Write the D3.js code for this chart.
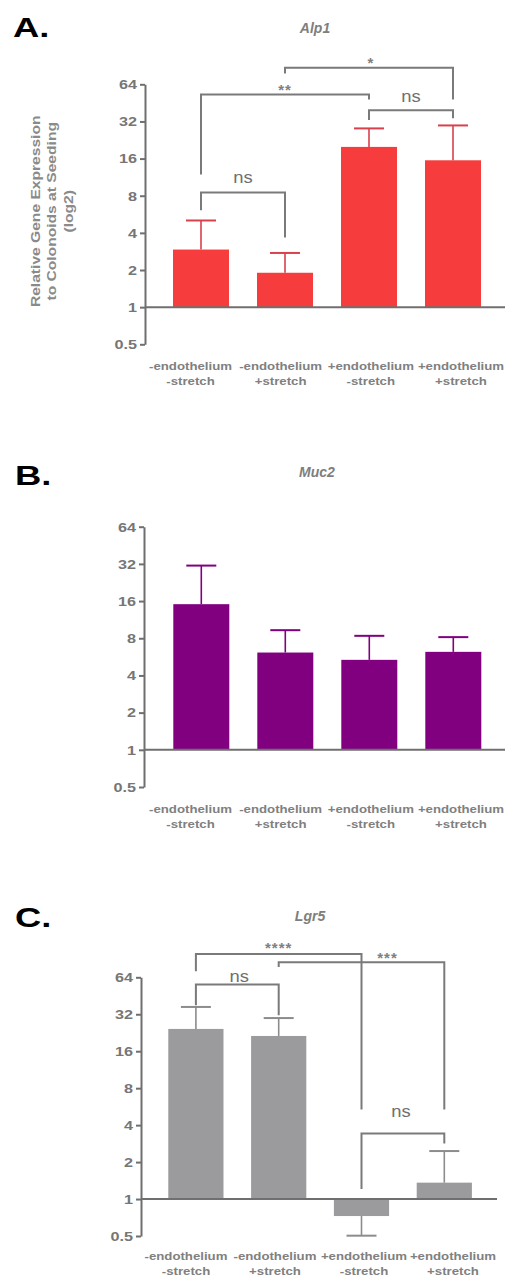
<!DOCTYPE html>
<html>
<head>
<meta charset="utf-8">
<script src="https://cdn.jsdelivr.net/npm/d3@7"></script>
<style>
  body { margin: 0; background: #fff; }
  svg { display: block; font-family: "Liberation Sans", Arial, sans-serif; }
</style>
</head>
<body>
<svg id="fig" width="509" height="1277"></svg>
<script>
// groups (two-line x labels)
const groups = [
  ['-endothelium', '-stretch'],
  ['-endothelium', '+stretch'],
  ['+endothelium', '-stretch'],
  ['+endothelium', '+stretch']
];
const yTicks = [0.5, 1, 2, 4, 8, 16, 32, 64];

// relative expression (mean) and tip of error bar
const alp1Mean = [2.93, 1.90, 19.9, 15.5];
const alp1ErrEnd = [5.04, 2.75, 28.1, 29.7];
const muc2Mean = [15.1, 6.13, 5.35, 6.21];
const muc2ErrEnd = [31.0, 9.3, 8.37, 8.17];
const lgr5Mean = [24.3, 21.3, 0.727, 1.36];
const lgr5ErrEnd = [36.7, 29.8, 0.503, 2.46];

// significance brackets: [from, to, text, level, left leg end, right leg end]
const alp1Brackets = [
  [0, 1, 'ns', 8.5, 6.1, 3.67],
  [0, 2, '**', 53.0, 11.9, 48.2],
  [2, 3, 'ns', 39.5, 32.8, 34.0],
  [1, 3, '*', 87.0, 78.4, 48.2]
];
const lgr5Brackets = [
  [0, 2, '****', 99.0, 71.6, 5.37],
  [1, 3, '***', 84.7, 77.6, 5.37],
  [0, 1, 'ns', 55.8, 37.9, 31.4],
  [2, 3, 'ns', 3.42, 1.21, 2.84]
];

const svg = d3.select('#fig');

const panels = [
  {
    tag: 'A.', title: 'Alp1', mean: alp1Mean, err: alp1ErrEnd, brackets: alp1Brackets,
    fill: '#f63c3c', errColor: '#d8404c',
    left: 145, top: 84.3, bottom: 344.3, band: [159, 495], axisEnd: 505,
    labels: [190.5, 461], labelDy: 26, titleX: 315, titleY: 33, tagX: 13, tagY: 36.7,
    textGap: [9, -0.5, 8.3, 0], textDx: [0, 0, 0, 2], yLabel: true
  },
  {
    tag: 'B.', title: 'Muc2', mean: muc2Mean, err: muc2ErrEnd, brackets: [],
    fill: '#800080', errColor: '#800080',
    left: 144, top: 526.7, bottom: 787, band: [159.3, 495.3], axisEnd: 505,
    labels: [190.5, 461], labelDy: 26, titleX: 317, titleY: 476.7, tagX: 15, tagY: 485,
    textGap: [], textDx: [], yLabel: false
  },
  {
    tag: 'C.', title: 'Lgr5', mean: lgr5Mean, err: lgr5ErrEnd, brackets: lgr5Brackets,
    fill: '#9b9b9e', errColor: '#8c8c8c',
    left: 141, top: 977.3, bottom: 1236, band: [154.5, 485.7], axisEnd: 497,
    labels: [186, 453], labelDy: 24, titleX: 310, titleY: 921, tagX: 15, tagY: 927,
    textGap: [1.5, -0.8, 2.6, 16.6], textDx: [0, 26, 2, -2], yLabel: false
  }
];

// stretch a text element horizontally around its own anchor
function stretch(sel, sx) {
  sel.attr('transform', function () {
    const x = +this.getAttribute('x') || 0;
    const y = +this.getAttribute('y') || 0;
    return `translate(${x},${y}) scale(${sx},1) translate(${-x},${-y})`;
  });
}

const gray = '#6f6f6f';
const brGray = '#7a7a7a';

panels.forEach(p => {
  const g = svg.append('g');

  const y = d3.scaleLog().base(2).domain([0.5, 64]).range([p.bottom, p.top]);
  const x = d3.scaleBand().domain(d3.range(groups.length)).range(p.band)
    .paddingInner(1 / 3).paddingOuter(1 / 6);
  const xl = d3.scalePoint().domain(d3.range(groups.length)).range(p.labels);
  const cx = i => x(i) + x.bandwidth() / 2;

  // panel tag
  g.append('text')
    .attr('x', p.tagX).attr('y', p.tagY)
    .attr('font-size', 28).attr('font-weight', 'bold').attr('fill', '#000')
    .text(p.tag)
    .call(stretch, 1.3);

  // title
  g.append('text')
    .attr('x', p.titleX).attr('y', p.titleY)
    .attr('text-anchor', 'middle')
    .attr('font-size', 14).attr('font-weight', 'bold').attr('font-style', 'italic')
    .attr('fill', '#7e7e7e')
    .text(p.title);

  // bars
  g.selectAll('rect.bar')
    .data(p.mean)
    .join('rect')
    .attr('class', 'bar')
    .attr('x', (d, i) => x(i))
    .attr('width', x.bandwidth())
    .attr('y', d => Math.min(y(d), y(1)))
    .attr('height', d => Math.abs(y(d) - y(1)))
    .attr('fill', p.fill);

  // error bars
  const eb = g.selectAll('g.err')
    .data(p.err)
    .join('g')
    .attr('class', 'err')
    .attr('stroke', p.errColor);
  eb.append('line')
    .attr('x1', (d, i) => cx(i)).attr('x2', (d, i) => cx(i))
    .attr('y1', (d, i) => y(p.mean[i])).attr('y2', d => y(d))
    .attr('stroke-width', 1.6);
  eb.append('line')
    .attr('x1', (d, i) => cx(i) - 15).attr('x2', (d, i) => cx(i) + 15)
    .attr('y1', d => y(d)).attr('y2', d => y(d))
    .attr('stroke-width', 2);

  // y axis
  const ya = g.append('g')
    .attr('transform', `translate(${p.left},0)`)
    .call(d3.axisLeft(y).tickValues(yTicks).tickFormat(d => d).tickSize(5).tickSizeOuter(0).tickPadding(3));
  ya.select('.domain').attr('stroke', gray).attr('stroke-width', 2);
  ya.selectAll('.tick line').attr('stroke', gray).attr('stroke-width', 2);
  ya.selectAll('.tick text')
    .attr('font-size', 13.5).attr('font-weight', 'bold').attr('fill', '#767676')
    .attr('font-family', '"Liberation Sans", Arial, sans-serif')
    .call(stretch, 1.2);

  // baseline at 1
  g.append('line')
    .attr('x1', p.left).attr('x2', p.axisEnd)
    .attr('y1', y(1)).attr('y2', y(1))
    .attr('stroke', gray).attr('stroke-width', 2);

  // x labels
  const xt = g.selectAll('text.xl')
    .data(groups)
    .join('text')
    .attr('class', 'xl')
    .attr('x', (d, i) => xl(i))
    .attr('y', y(0.5) + p.labelDy)
    .attr('text-anchor', 'middle')
    .attr('font-size', 11.5).attr('font-weight', 'bold').attr('fill', '#808080');
  xt.selectAll('tspan')
    .data((d, i) => d.map(s => [s, xl(i)]))
    .join('tspan')
    .attr('x', d => d[1])
    .attr('dy', (d, j) => j === 0 ? 0 : 14.8)
    .text(d => d[0]);
  xt.call(stretch, 1.15);

  // significance brackets
  p.brackets.forEach((b, k) => {
    const [a, c, label, level, endA, endC] = b;
    const xa = cx(a), xc = cx(c), yl = y(level);
    g.append('path')
      .attr('d', `M${xa},${y(endA)}V${yl}H${xc}V${y(endC)}`)
      .attr('fill', 'none').attr('stroke', brGray).attr('stroke-width', 2);
    const isStar = label.startsWith('*');
    g.append('text')
      .attr('x', (xa + xc) / 2 + p.textDx[k])
      .attr('y', yl - p.textGap[k])
      .attr('text-anchor', 'middle')
      .attr('font-size', isStar ? 15 : 16)
      .attr('font-weight', isStar ? 'bold' : 'normal')
      .attr('letter-spacing', isStar ? 1 : 0)
      .attr('fill', isStar ? '#808080' : '#6f6f6f')
      .text(label)
      .call(stretch, isStar ? 1 : 1.15);
  });

  // y axis title (panel A only)
  if (p.yLabel) {
    const t = g.append('text')
      .attr('transform', `translate(40,${(p.top + p.bottom) / 2 - 3}) rotate(-90) scale(1.25,1)`)
      .attr('text-anchor', 'middle')
      .attr('font-size', 12.5).attr('font-weight', 'bold').attr('fill', '#8a8a8a');
    ['Relative Gene Expression', 'to Colonoids at Seeding', '(log2)'].forEach((s, j) => {
      t.append('tspan').attr('x', 0).attr('dy', j === 0 ? 0 : 16.5).text(s);
    });
  }
});
</script>
</body>
</html>
